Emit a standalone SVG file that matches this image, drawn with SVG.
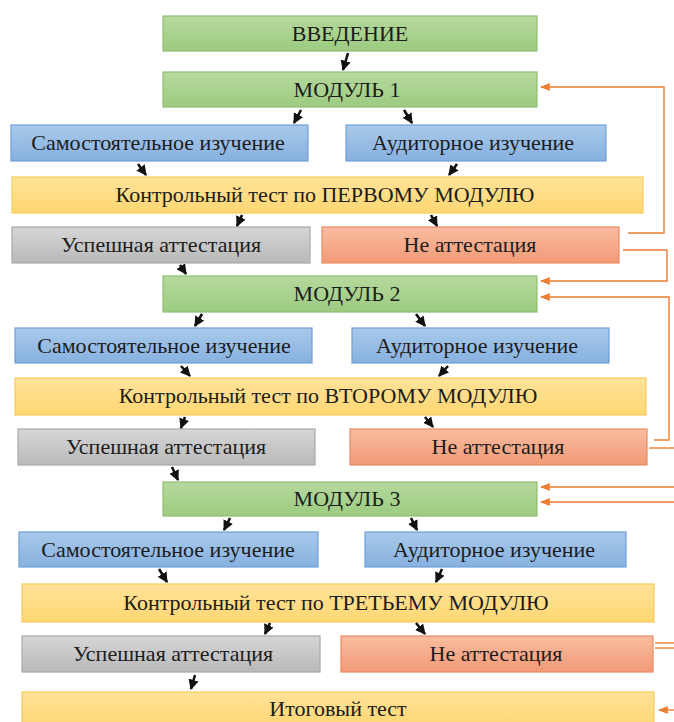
<svg xmlns="http://www.w3.org/2000/svg" width="674" height="722" viewBox="0 0 674 722">
<defs>
<linearGradient id="gG" x1="0" y1="0" x2="0" y2="1"><stop offset="0" stop-color="#b6d99e"/><stop offset="1" stop-color="#9ccb80"/></linearGradient>
<linearGradient id="gB" x1="0" y1="0" x2="0" y2="1"><stop offset="0" stop-color="#a9c9ea"/><stop offset="1" stop-color="#87b1e0"/></linearGradient>
<linearGradient id="gY" x1="0" y1="0" x2="0" y2="1"><stop offset="0" stop-color="#ffe39a"/><stop offset="1" stop-color="#ffd772"/></linearGradient>
<linearGradient id="gS" x1="0" y1="0" x2="0" y2="1"><stop offset="0" stop-color="#d6d6d6"/><stop offset="1" stop-color="#b9b9b9"/></linearGradient>
<linearGradient id="gR" x1="0" y1="0" x2="0" y2="1"><stop offset="0" stop-color="#f9bca0"/><stop offset="1" stop-color="#f29a76"/></linearGradient>
<marker id="ab" viewBox="0 0 10 10" refX="9" refY="5" markerWidth="4" markerHeight="4" orient="auto" markerUnits="strokeWidth"><path d="M0,0 L10,5 L0,10 z" fill="#111"/></marker>
<marker id="ao" viewBox="0 0 10 10" refX="9" refY="5" markerWidth="7" markerHeight="7" orient="auto" markerUnits="strokeWidth"><path d="M0,1 L10,5 L0,9 z" fill="#ed7d31"/></marker>
</defs>
<rect width="674" height="722" fill="#ffffff"/>

<g id="vvedenie"><rect fill="url(#gG)" stroke="#8fbf73" stroke-width="1.2" x="163" y="16" width="374" height="35"/><text font-family="Liberation Serif" font-size="22" fill="#1c1c1c" text-anchor="middle" x="350" y="41">ВВЕДЕНИЕ</text></g>
<g id="modul1"><rect fill="url(#gG)" stroke="#8fbf73" stroke-width="1.2" x="163" y="72" width="374" height="35"/><text font-family="Liberation Serif" font-size="22" fill="#1c1c1c" text-anchor="middle" x="347" y="97">МОДУЛЬ 1</text></g>
<g id="sam1"><rect fill="url(#gB)" stroke="#6f9fd6" stroke-width="1.2" x="11" y="125" width="297" height="36"/><text font-family="Liberation Serif" font-size="22" fill="#1c1c1c" text-anchor="middle" x="158" y="150">Самостоятельное изучение</text></g>
<g id="aud1"><rect fill="url(#gB)" stroke="#6f9fd6" stroke-width="1.2" x="346" y="125" width="260" height="36"/><text font-family="Liberation Serif" font-size="22" fill="#1c1c1c" text-anchor="middle" x="473" y="150">Аудиторное изучение</text></g>
<g id="test1"><rect fill="url(#gY)" stroke="#f7cc5a" stroke-width="1.2" x="12" y="177" width="631" height="36"/><text font-family="Liberation Serif" font-size="22" fill="#1c1c1c" text-anchor="middle" x="325" y="202">Контрольный тест по ПЕРВОМУ МОДУЛЮ</text></g>
<g id="usp1"><rect fill="url(#gS)" stroke="#a8a8a8" stroke-width="1.2" x="12" y="227" width="298" height="36"/><text font-family="Liberation Serif" font-size="22" fill="#1c1c1c" text-anchor="middle" x="161" y="252">Успешная аттестация</text></g>
<g id="ne1"><rect fill="url(#gR)" stroke="#e98a63" stroke-width="1.2" x="322" y="227" width="297" height="36"/><text font-family="Liberation Serif" font-size="22" fill="#1c1c1c" text-anchor="middle" x="470" y="252">Не аттестация</text></g>

<g id="modul2"><rect fill="url(#gG)" stroke="#8fbf73" stroke-width="1.2" x="163" y="276" width="374" height="36"/><text font-family="Liberation Serif" font-size="22" fill="#1c1c1c" text-anchor="middle" x="347" y="301">МОДУЛЬ 2</text></g>
<g id="sam2"><rect fill="url(#gB)" stroke="#6f9fd6" stroke-width="1.2" x="15" y="328" width="297" height="35"/><text font-family="Liberation Serif" font-size="22" fill="#1c1c1c" text-anchor="middle" x="164" y="353">Самостоятельное изучение</text></g>
<g id="aud2"><rect fill="url(#gB)" stroke="#6f9fd6" stroke-width="1.2" x="352" y="328" width="257" height="35"/><text font-family="Liberation Serif" font-size="22" fill="#1c1c1c" text-anchor="middle" x="477" y="353">Аудиторное изучение</text></g>
<g id="test2"><rect fill="url(#gY)" stroke="#f7cc5a" stroke-width="1.2" x="15" y="378" width="631" height="37"/><text font-family="Liberation Serif" font-size="22" fill="#1c1c1c" text-anchor="middle" x="328" y="403">Контрольный тест по ВТОРОМУ МОДУЛЮ</text></g>
<g id="usp2"><rect fill="url(#gS)" stroke="#a8a8a8" stroke-width="1.2" x="18" y="429" width="297" height="36"/><text font-family="Liberation Serif" font-size="22" fill="#1c1c1c" text-anchor="middle" x="166" y="454">Успешная аттестация</text></g>
<g id="ne2"><rect fill="url(#gR)" stroke="#e98a63" stroke-width="1.2" x="350" y="429" width="297" height="36"/><text font-family="Liberation Serif" font-size="22" fill="#1c1c1c" text-anchor="middle" x="498" y="454">Не аттестация</text></g>

<g id="modul3"><rect fill="url(#gG)" stroke="#8fbf73" stroke-width="1.2" x="163" y="482" width="374" height="34"/><text font-family="Liberation Serif" font-size="22" fill="#1c1c1c" text-anchor="middle" x="347" y="506">МОДУЛЬ 3</text></g>
<g id="sam3"><rect fill="url(#gB)" stroke="#6f9fd6" stroke-width="1.2" x="19" y="532" width="299" height="35"/><text font-family="Liberation Serif" font-size="22" fill="#1c1c1c" text-anchor="middle" x="168" y="557">Самостоятельное изучение</text></g>
<g id="aud3"><rect fill="url(#gB)" stroke="#6f9fd6" stroke-width="1.2" x="365" y="532" width="261" height="35"/><text font-family="Liberation Serif" font-size="22" fill="#1c1c1c" text-anchor="middle" x="494" y="557">Аудиторное изучение</text></g>
<g id="test3"><rect fill="url(#gY)" stroke="#f7cc5a" stroke-width="1.2" x="22" y="584" width="632" height="38"/><text font-family="Liberation Serif" font-size="22" fill="#1c1c1c" text-anchor="middle" x="336" y="610">Контрольный тест по ТРЕТЬЕМУ МОДУЛЮ</text></g>
<g id="usp3"><rect fill="url(#gS)" stroke="#a8a8a8" stroke-width="1.2" x="22" y="636" width="298" height="36"/><text font-family="Liberation Serif" font-size="22" fill="#1c1c1c" text-anchor="middle" x="173" y="661">Успешная аттестация</text></g>
<g id="ne3"><rect fill="url(#gR)" stroke="#e98a63" stroke-width="1.2" x="341" y="636" width="312" height="36"/><text font-family="Liberation Serif" font-size="22" fill="#1c1c1c" text-anchor="middle" x="496" y="661">Не аттестация</text></g>
<g id="itog"><rect fill="url(#gY)" stroke="#f7cc5a" stroke-width="1.2" x="22" y="692" width="632" height="34"/><text font-family="Liberation Serif" font-size="22" fill="#1c1c1c" text-anchor="middle" x="338" y="716">Итоговый тест</text></g>

<g id="connectors" fill="none">
<g stroke="#111" stroke-width="2.6" marker-end="url(#ab)">
<path d="M348,53 L343,70"/>
<path d="M301,110 L294,123"/>
<path d="M404,110 L412,123"/>
<path d="M138,164 L146,175"/>
<path d="M457,164 L449,175"/>
<path d="M242,215 L237,226"/>
<path d="M431,215 L437,226"/>
<path d="M180,265 L186,274"/>
<path d="M202,314 L195,326"/>
<path d="M416,314 L425,326"/>
<path d="M181,366 L190,376"/>
<path d="M448,366 L439,376"/>
<path d="M185,417 L181,428"/>
<path d="M425,417 L433,427"/>
<path d="M172,467 L178,480"/>
<path d="M230,518 L224,530"/>
<path d="M411,518 L417,530"/>
<path d="M159,569 L167,582"/>
<path d="M442,569 L436,582"/>
<path d="M270,623 L265,634"/>
<path d="M416,623 L425,634"/>
<path d="M195,675 L191,689"/>
</g>
<g stroke="#ed7d31" stroke-width="1.4">
<path marker-end="url(#ao)" d="M628,233 L664,233 L664,87 L541,87"/>
<path marker-end="url(#ao)" d="M623,250 L667,250 L667,281 L541,281"/>
<path marker-end="url(#ao)" d="M654,440 L669,440 L669,297 L541,297"/>
<path d="M649,448 L674,448"/>
<path marker-end="url(#ao)" d="M674,487 L541,487"/>
<path marker-end="url(#ao)" d="M674,502 L541,502"/>
<path d="M655,643 L674,643"/>
<path d="M655,648 L674,648"/>
<path marker-end="url(#ao)" d="M674,710 L659,710"/>
</g>
</g>
</svg>
